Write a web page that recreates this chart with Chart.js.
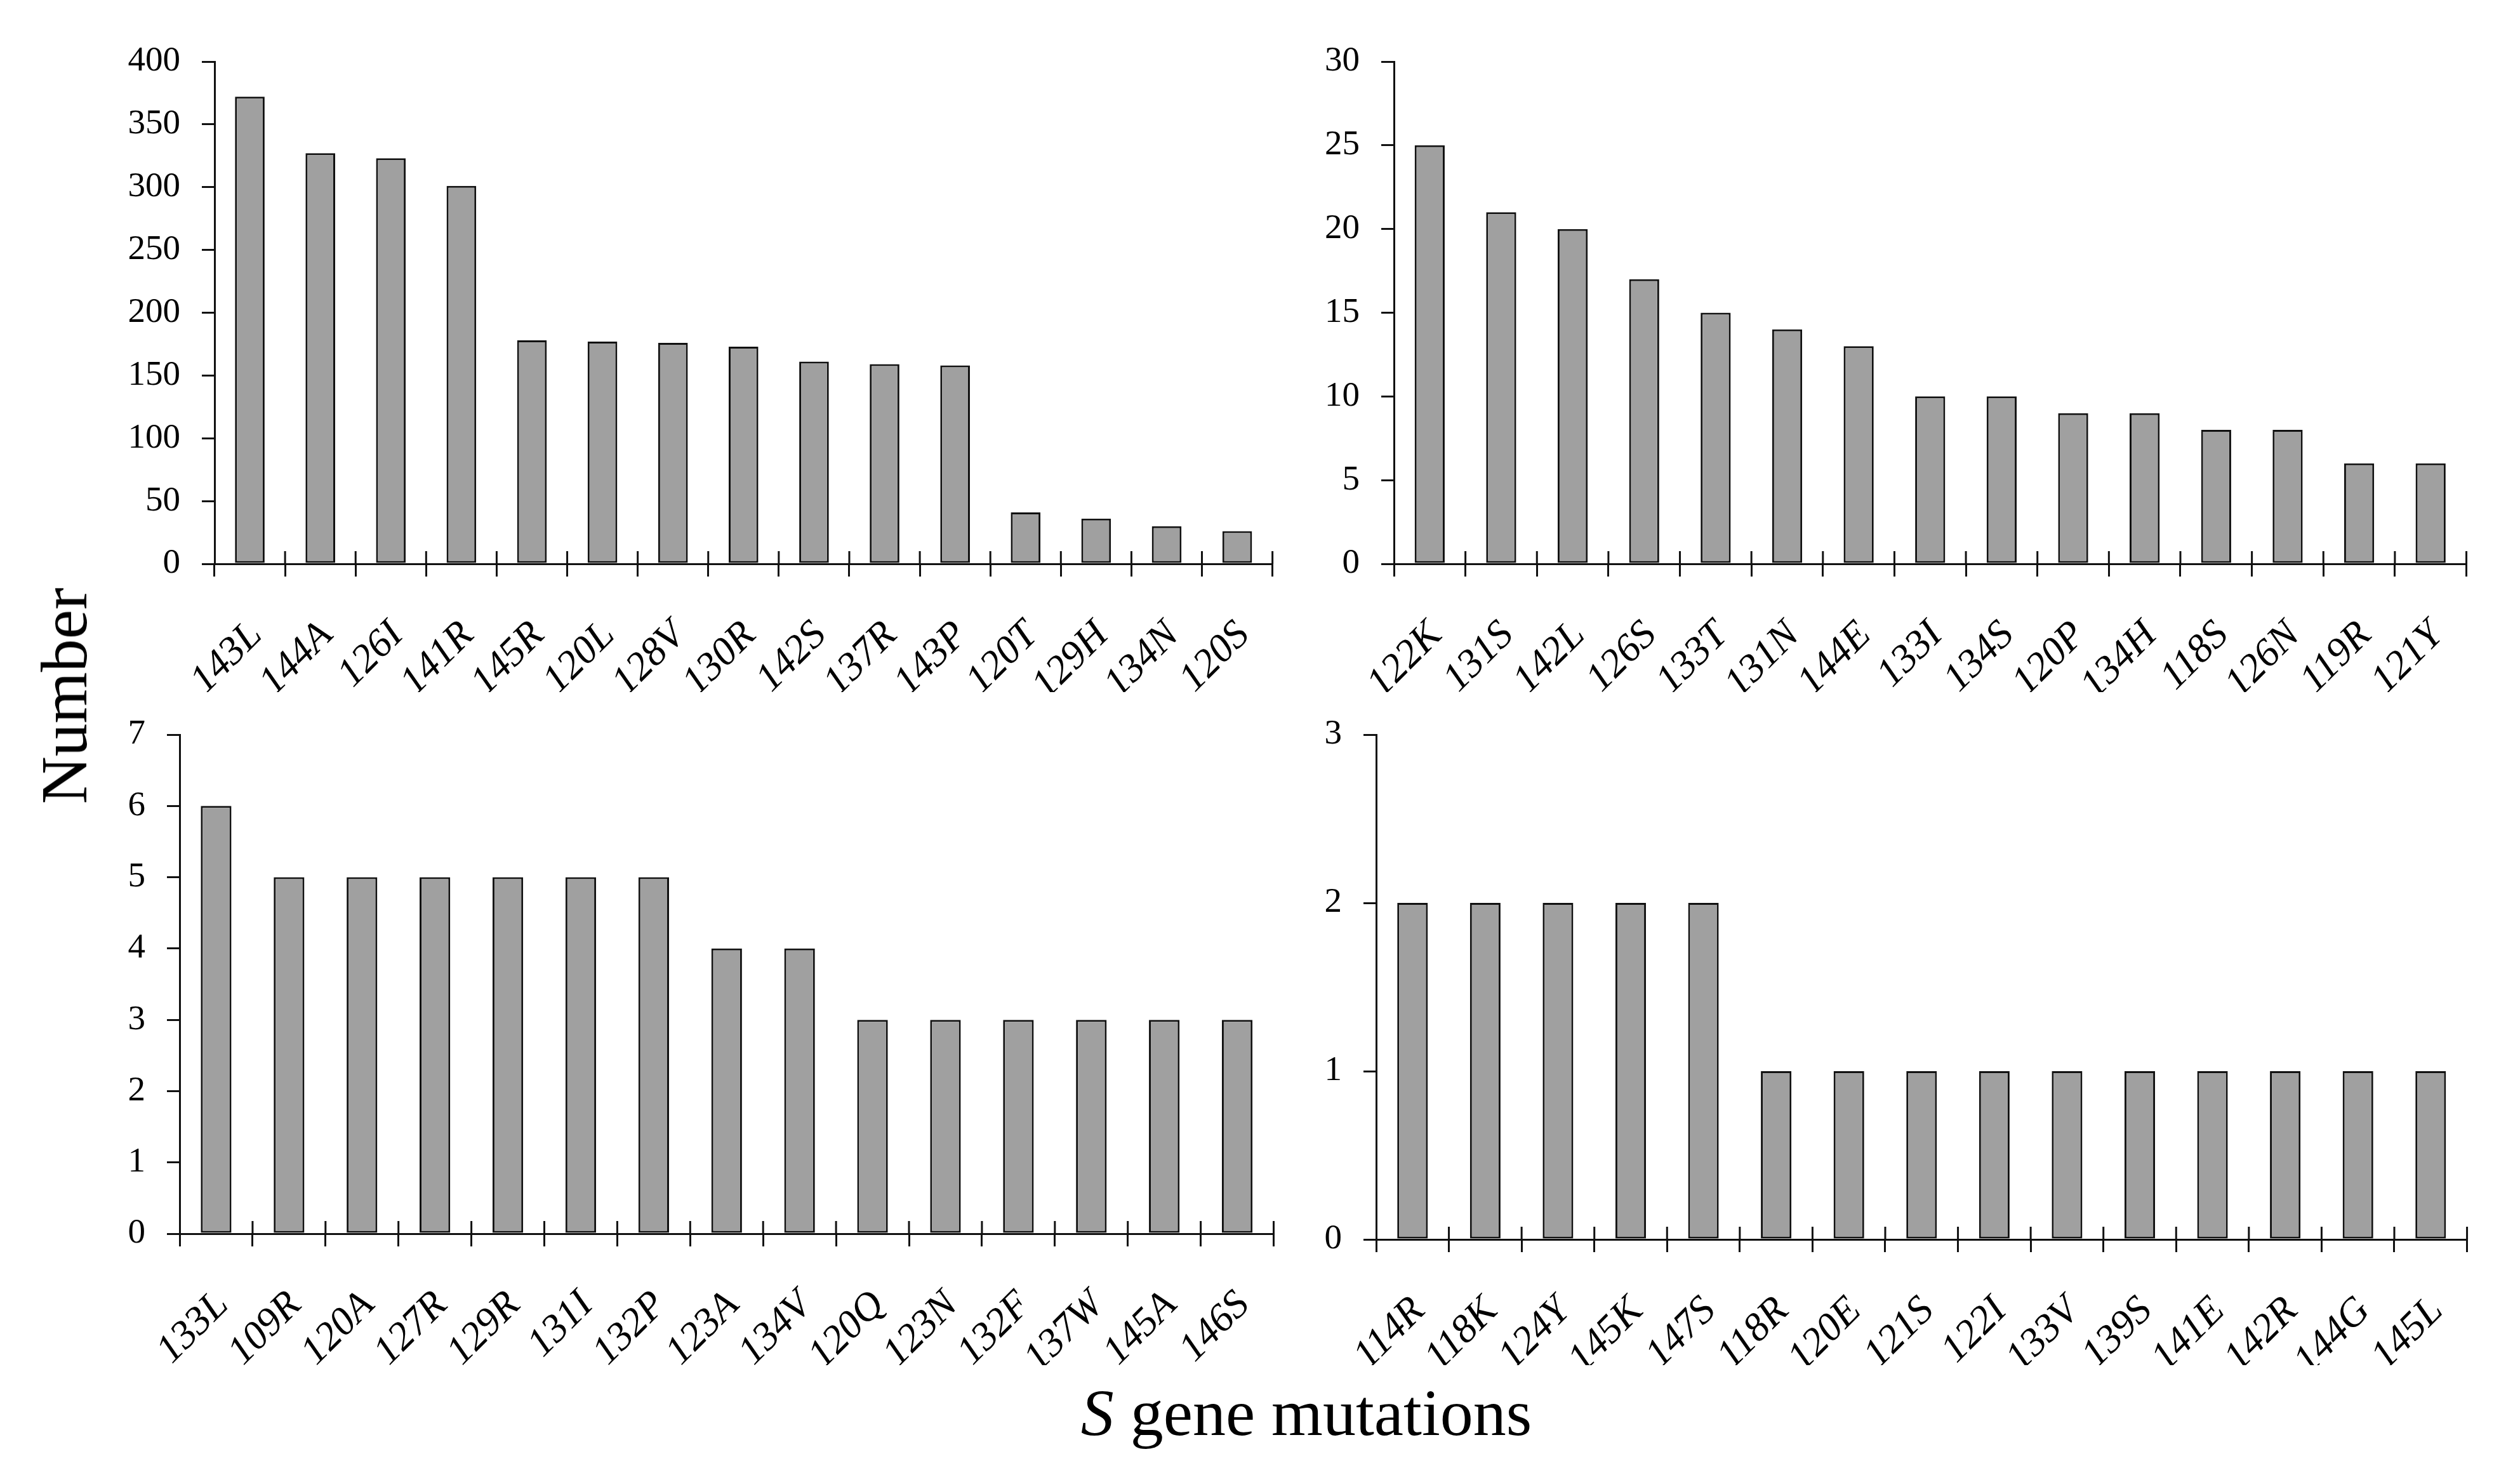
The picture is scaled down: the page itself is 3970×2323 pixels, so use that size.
<!doctype html>
<html lang="en">
<head>
    <title>S gene mutations</title>
    <meta charset="utf-8">
    <script src="https://cdn.jsdelivr.net/npm/chart.js@4.4.1/dist/chart.umd.min.js"></script>
    <style>
        body { margin: 0; background: #fff; width: 3970px; height: 2323px; position: relative; overflow: hidden; }
        .panel { position: absolute; }
        .title { position: absolute; font-family: 'Liberation Serif', serif; font-size: 104px; line-height: 1; color: #000; white-space: nowrap; }
    </style>
</head>
<body>
<div class="panel" style="left:180px; top:30px; width:1880px; height:1060px;"><canvas id="chartA"></canvas></div>
<div class="panel" style="left:2060px; top:30px; width:1880px; height:1060px;"><canvas id="chartB"></canvas></div>
<div class="panel" style="left:140px; top:1090px; width:1920px; height:1060px;"><canvas id="chartC"></canvas></div>
<div class="panel" style="left:2060px; top:1090px; width:1880px; height:1060px;"><canvas id="chartD"></canvas></div>
<div class="title" style="left:101px; top:1096px; transform: translate(-50%, -50%) rotate(-90deg);">Number</div>
<div class="title" style="left:2058px; top:2225px; transform: translate(-50%, -50%);"><i>S</i> gene mutations</div>
<script>
    // panel 1 (top left)
    const labelsA = ['143L', '144A', '126I', '141R', '145R', '120L', '128V', '130R', '142S', '137R', '143P', '120T', '129H', '134N', '120S'];
    const valuesA = [372, 327, 323, 301, 178, 177, 176, 173, 161, 159, 158, 41, 36, 30, 26];
    // panel 2 (top right)
    const labelsB = ['122K', '131S', '142L', '126S', '133T', '131N', '144E', '133I', '134S', '120P', '134H', '118S', '126N', '119R', '121Y'];
    const valuesB = [25, 21, 20, 17, 15, 14, 13, 10, 10, 9, 9, 8, 8, 6, 6];
    // panel 3 (bottom left)
    const labelsC = ['133L', '109R', '120A', '127R', '129R', '131I', '132P', '123A', '134V', '120Q', '123N', '132F', '137W', '145A', '146S'];
    const valuesC = [6, 5, 5, 5, 5, 5, 5, 4, 4, 3, 3, 3, 3, 3, 3];
    // panel 4 (bottom right)
    const labelsD = ['114R', '118K', '124Y', '145K', '147S', '118R', '120E', '121S', '122I', '133V', '139S', '141E', '142R', '144G', '145L'];
    const valuesD = [2, 2, 2, 2, 2, 1, 1, 1, 1, 1, 1, 1, 1, 1, 1];

    const INK = '#111';
    const FONT = "'Liberation Serif', serif";

    // x axis ticks in the figure cross the axis line, Chart.js only draws them outward
    const crossTicks = {
        id: 'crossTicks',
        afterDraw(chart) {
            let x = chart.scales.x;
            let y0 = chart.scales.y.getPixelForValue(0);
            let ctx = chart.ctx;
            ctx.save();
            ctx.strokeStyle = INK;
            ctx.lineWidth = 3;
            ctx.beginPath();
            for (let i = 1; i < x.ticks.length; i++) {
                let px = (x.getPixelForTick(i - 1) + x.getPixelForTick(i)) / 2;
                ctx.moveTo(px, y0 - 20);
                ctx.lineTo(px, y0);
            }
            ctx.moveTo(x.right, y0 - 20);
            ctx.lineTo(x.right, y0);
            ctx.stroke();
            ctx.restore();
        }
    };

    function makeChart(id, labels, values, yMax, yStep, yWidth, xHeight, padTop, padRight) {
        let ctx = document.getElementById(id).getContext('2d');
        return new Chart(ctx, {
            type: 'bar',
            data: {
                labels: labels,
                datasets: [{
                    data: values,
                    backgroundColor: '#a0a0a0',
                    borderColor: INK,
                    borderWidth: 3,
                    borderSkipped: false,
                    barPercentage: 0.42,
                    categoryPercentage: 1
                }]
            },
            options: {
                responsive: true,
                maintainAspectRatio: false,
                animation: false,
                layout: {padding: {top: padTop, right: padRight, left: 0, bottom: 0}},
                plugins: {legend: {display: false}, tooltip: {enabled: false}},
                scales: {
                    x: {
                        afterFit: function (scale) { scale.height = xHeight; },
                        border: {display: true, color: INK, width: 3},
                        grid: {offset: true, drawOnChartArea: false, drawTicks: true, tickLength: 20, color: INK, lineWidth: 3},
                        ticks: {
                            autoSkip: false, minRotation: 45, maxRotation: 45, padding: 56, labelOffset: 10,
                            color: '#000', font: {family: FONT, size: 63, style: 'italic'}
                        }
                    },
                    y: {
                        min: 0, max: yMax,
                        afterFit: function (scale) { scale.width = yWidth; },
                        border: {display: true, color: INK, width: 3},
                        grid: {drawOnChartArea: false, drawTicks: true, tickLength: 20, color: INK, lineWidth: 3},
                        ticks: {stepSize: yStep, padding: 34, color: '#000', font: {family: FONT, size: 55}}
                    }
                }
            },
            plugins: [crossTicks]
        });
    }

    makeChart('chartA', labelsA, valuesA, 400, 50, 158, 202, 61, 44);
    makeChart('chartB', labelsB, valuesB, 30, 5, 136, 202, 61, 40);
    makeChart('chartC', labelsC, valuesC, 7, 1, 143, 207, 61, 44);
    makeChart('chartD', labelsD, valuesD, 3, 1, 108, 198, 62, 38);
</script>
</body>
</html>
